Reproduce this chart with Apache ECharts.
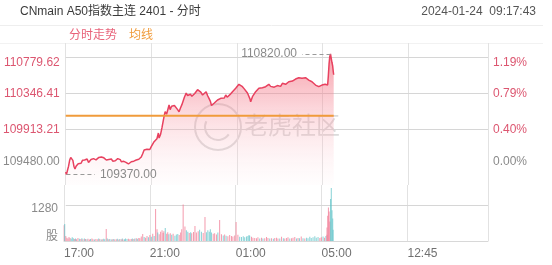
<!DOCTYPE html>
<html><head><meta charset="utf-8">
<script src="https://cdn.jsdelivr.net/npm/echarts@6/dist/echarts.min.js"></script>
<style>html,body{margin:0;padding:0;background:#fff}#c{width:552px;height:265px}</style>
</head><body><div id="c"></div>
<script>
// ---------- data ----------
const titleText = 'CNmain A50指数主连 2401 - 分时';
const dateText = '2024-01-24  09:17:43';
const legendNames = ['分时走势', '均线'];
const basePrice = 109480;
const highPrice = 110820, highTime = '09:08';
const lowPrice = 109370, lowTime = '17:02';
const avgTimes = ['17:00', '09:17'];
const avgValues = [110075, 110075];
const priceTicks = [109480.00, 109913.21, 110346.41, 110779.62];
const volTicks = [0, 1280];
const volUnit = '股';
const xTickLabels = ['17:00', '21:00', '01:00', '05:00', '12:45'];
const sessionEnd = '16:30';

const times = [
'17:00','17:02','17:05','17:08','17:11','17:14','17:17','17:20','17:23','17:26',
'17:29','17:32','17:35','17:39','17:43','17:47','17:50','17:53','17:57','18:00',
'18:04','18:07','18:11','18:14','18:18','18:21','18:25','18:29','18:33','18:37',
'18:40','18:44','18:47','18:51','18:54','18:58','19:01','19:05','19:08','19:12',
'19:15','19:19','19:22','19:26','19:29','19:33','19:36','19:40','19:43','19:45',
'19:49','19:52','19:56','20:00','20:04','20:08','20:11','20:15','20:18','20:22',
'20:25','20:29','20:32','20:36','20:40','20:44','20:48','20:52','20:56','21:00',
'21:04','21:08','21:12','21:16','21:20','21:22','21:26','21:30','21:34','21:37',
'21:39','21:43','21:47','21:50','21:53','21:57','22:01','22:05','22:10','22:14',
'22:18','22:22','22:26','22:29','22:33','22:38','22:42','22:46','22:50','22:54',
'22:57','23:02','23:06','23:10','23:15','23:19','23:24','23:29','23:34','23:38',
'23:42','23:46','23:49','23:52','23:57','00:01','00:06','00:10','00:15','00:20',
'00:25','00:29','00:33','00:38','00:43','00:48','00:52','00:57','01:01','01:06',
'01:11','01:16','01:21','01:25','01:30','01:34','01:37','01:39','01:44','01:48',
'01:53','01:58','02:02','02:07','02:12','02:16','02:21','02:26','02:30','02:35',
'02:40','02:45','02:49','02:54','02:58','03:03','03:08','03:13','03:17','03:22',
'03:26','03:31','03:36','03:40','03:45','03:50','03:54','03:58','04:03','04:08',
'04:13','04:18','04:22','04:27','04:31','04:36','04:41','04:45','04:50','04:55',
'04:59','05:04','05:08','05:12','05:15','09:00','09:02','09:04','09:06','09:08',
'09:10','09:12','09:14','09:16','09:17'
];
const prices = [
109400,109370,109420,109470,109540,109575,109592,109540,109470,109435,
109470,109455,109500,109523,109505,109540,109520,109544,109530,109555,
109515,109523,109550,109535,109560,109568,109545,109562,109575,109555,
109580,109560,109570,109548,109544,109565,109550,109572,109556,109530,
109552,109535,109544,109560,109538,109548,109523,109540,109528,109544,
109515,109505,109496,109512,109523,109540,109530,109550,109544,109565,
109552,109575,109580,109620,109664,109650,109672,109688,109670,109704,
109690,109764,109740,109800,109869,109808,109850,109930,110025,110090,
110125,110095,110109,110206,110150,110190,110170,110200,110185,110150,
110125,110170,110210,110230,110300,110350,110320,110306,110335,110310,
110326,110345,110366,110390,110407,110360,110326,110350,110366,110320,
110286,110250,110200,110185,110230,110250,110266,110245,110286,110300,
110290,110326,110300,110306,110340,110366,110380,110407,110430,110455,
110440,110426,110400,110386,110350,110326,110280,110245,110306,110330,
110366,110390,110407,110400,110414,110405,110426,110440,110455,110430,
110438,110420,110426,110440,110446,110430,110467,110450,110455,110470,
110486,110475,110494,110505,110518,110510,110534,110520,110527,110515,
110534,110520,110506,110495,110486,110470,110446,110435,110426,110440,
110446,110430,110455,110445,110446,110450,110560,110700,110790,110820,
110770,110720,110680,110600,110570
];
const volumes = [
560,610,180,120,90,140,110,80,130,100,
70,90,60,110,80,75,95,60,85,70,
60,80,55,70,90,65,50,75,60,85,
70,55,60,80,65,430,90,60,70,55,
60,75,50,65,80,55,70,60,85,50,
65,90,70,80,60,75,85,70,90,95,
80,110,100,160,250,140,120,180,130,210,
150,260,180,1140,420,300,240,330,380,290,
350,460,260,310,240,280,220,260,190,230,
250,210,300,420,1300,520,380,330,290,310,
280,320,540,300,350,400,330,290,860,310,
380,330,420,300,260,280,230,300,750,240,
200,230,190,170,210,180,160,200,680,220,
150,140,170,130,160,180,210,190,150,120,
110,100,130,90,120,85,100,140,110,90,
95,80,105,120,90,85,150,100,90,110,
130,90,100,120,140,85,110,95,160,100,
90,120,100,150,110,130,170,120,140,110,
130,160,120,180,220,480,900,1200,1050,700,
1500,1890,1100,800,400
];

// ---------- helpers ----------
function toIdx(t) {
  const [h, m] = t.split(':').map(Number);
  if (h >= 17) return (h - 17) * 60 + m;
  if (h < 5 || (h === 5 && m <= 15)) return 420 + h * 60 + m;
  return 735 + (h - 9) * 60 + m;
}
const xTickVals = xTickLabels.map(toIdx);
const xMax = toIdx(sessionEnd);

const RED = '#e8415f', LBL_RED = '#dc5670', GRAY = '#8a8a8a', ORANGE = '#f09b3b';
const UP = 'rgba(240,120,145,0.75)', DOWN = 'rgba(95,195,200,0.75)';
const FONT = "'Liberation Sans', Arial, 'Noto Sans CJK SC', sans-serif";
const GRIDC = '#e2e2e2';
const HGRIDC = '#d6d6d6';

const priceData = times.map((t, i) => [toIdx(t), prices[i]]);
const avgData = avgTimes.map((t, i) => [toIdx(t), avgValues[i]]);
const volData = times.map((t, i) => ({
  value: [toIdx(t), volumes[i]],
  itemStyle: { color: (i === 0 || prices[i] >= prices[i - 1]) ? UP : DOWN }
}));

const pMax = 110952, pMin = 109243;
const fmtPct = v => ((v / basePrice - 1) * 100).toFixed(2) + '%';
const pTop = priceTicks[priceTicks.length - 1], pBot = priceTicks[0];
function priceLabel(v, txt) {
  const key = v > basePrice ? 'r' : 'g';
  const pos = Math.abs(v - pTop) < 0.01 ? 'T' : Math.abs(v - pBot) < 0.01 ? 'B' : '';
  return '{' + key + pos + '|' + txt + '}';
}
const priceRich = {
  r: { color: LBL_RED, fontSize: 12 },
  rT: { color: LBL_RED, fontSize: 12, padding: [11, 0, 0, 0] },
  g: { color: GRAY, fontSize: 12 },
  gB: { color: GRAY, fontSize: 12, padding: [0, 0, 7, 0] }
};
const volRich = {
  u: { color: GRAY, fontSize: 12, padding: [0, 0, 9, 0] },
  v: { color: GRAY, fontSize: 12, padding: [7, 0, 0, 0] }
};

const baseGraphics = [
  { type: 'text', left: 20, top: 6, style: { text: titleText, fill: '#3a3a3a', font: '12px ' + FONT } },
  { type: 'text', right: 16, top: 6, style: { text: dateText, fill: '#555', font: '12px ' + FONT } },
  { type: 'line', shape: { x1: 0, y1: 25.5, x2: 543, y2: 25.5 }, style: { stroke: '#eeeeee', lineWidth: 1 } },
  { type: 'line', shape: { x1: 0, y1: 43.5, x2: 543, y2: 43.5 }, style: { stroke: '#f2f2f2', lineWidth: 1 } },
  { type: 'group', z: 100, children: [
    { type: 'circle', shape: { cx: 218, cy: 127, r: 23 }, style: { fill: 'none', stroke: 'rgba(175,175,175,0.45)', lineWidth: 2 } },
    { type: 'arc', shape: { cx: 218, cy: 127, r: 13, startAngle: 0.6, endAngle: 3.6 }, style: { fill: 'none', stroke: 'rgba(175,175,175,0.45)', lineWidth: 2 } },
    { type: 'text', x: 244, y: 127, style: { text: '老虎社区', fill: 'rgba(170,170,170,0.42)', font: '24px ' + FONT, verticalAlign: 'middle' } }
  ] }
];

const chart = echarts.init(document.getElementById('c'), null, { renderer: 'canvas' });
chart.setOption({
  animation: false,
  textStyle: { fontFamily: FONT },
  legend: {
    left: 59, top: 25, itemWidth: 0, itemHeight: 0, itemGap: 7, icon: 'rect',
    selectedMode: false,
    data: [
      { name: legendNames[0], textStyle: { color: '#e8637a', fontSize: 12 } },
      { name: legendNames[1], textStyle: { color: ORANGE, fontSize: 12 } }
    ]
  },
  grid: [
    { left: 64, right: 64, top: 43, height: 142 },
    { left: 64, right: 64, top: 185, height: 56 }
  ],
  xAxis: [
    { type: 'value', gridIndex: 0, min: 0, max: xMax, interval: 240,
      axisLine: { show: false }, axisTick: { show: false }, axisLabel: { show: false },
      splitLine: { show: true, lineStyle: { color: GRIDC, width: 1 } } },
    { type: 'value', gridIndex: 1, min: 0, max: xMax, interval: 240,
      axisLine: { show: true, onZero: false, lineStyle: { color: '#d8d8d8' } }, axisTick: { show: false },
      axisLabel: { show: true, align: 'left', margin: 7, color: '#707070', fontSize: 12,
        formatter: v => { const i = xTickVals.indexOf(v); return i >= 0 ? xTickLabels[i] : ''; } },
      splitLine: { show: true, lineStyle: { color: GRIDC, width: 1 } } }
  ],
  yAxis: [
    { type: 'value', gridIndex: 0, min: pMin, max: pMax, position: 'left',
      axisLine: { show: false }, axisTick: { show: false },
      axisLabel: { show: true, margin: 6, fontSize: 12, customValues: priceTicks,
        formatter: v => priceLabel(v, v.toFixed(2)), rich: priceRich },
      splitLine: { show: false } },
    { type: 'value', gridIndex: 0, min: pMin, max: pMax, position: 'right',
      axisLine: { show: false }, axisTick: { show: false },
      axisLabel: { show: true, margin: 5, fontSize: 12, customValues: priceTicks,
        formatter: v => priceLabel(v, fmtPct(v)), rich: priceRich },
      splitLine: { show: false } },
    { type: 'value', gridIndex: 1, min: 0, max: 2000, position: 'left',
      axisLine: { show: false }, axisTick: { show: false },
      axisLabel: { show: true, margin: 6, fontSize: 12, customValues: volTicks, rich: volRich,
        formatter: v => (v === 0 ? '{u|' + volUnit + '}' : '{v|' + v + '}') },
      splitLine: { show: false } }
  ],
  series: [
    { name: legendNames[0], type: 'line', xAxisIndex: 0, yAxisIndex: 0, z: 3, data: priceData,
      showSymbol: false, symbol: 'none', lineStyle: { color: RED, width: 1.5 }, itemStyle: { color: RED },
      areaStyle: { origin: 'start', color: new echarts.graphic.LinearGradient(0, 0, 0, 1, [
        { offset: 0, color: 'rgba(240,80,100,0.8)' },
        { offset: 1, color: 'rgba(255,235,238,0.15)' }]) },
      markLine: { silent: true, symbol: 'none', animation: false,
        lineStyle: { color: '#9a9a9a', type: [4, 3], width: 1.2 },
        label: { show: true, position: 'end', distance: 5, color: GRAY, fontSize: 12 },
        data: [
          [ { coord: [toIdx(highTime), highPrice], label: { formatter: highPrice.toFixed(2) } },
            { coord: [toIdx(highTime) - 80, highPrice] } ],
          [ { coord: [toIdx(lowTime), lowPrice], label: { formatter: lowPrice.toFixed(2) } },
            { coord: [toIdx(lowTime) + 80, lowPrice] } ]
        ] } },
    { name: legendNames[1], type: 'line', xAxisIndex: 0, yAxisIndex: 0, z: 4, data: avgData,
      showSymbol: false, symbol: 'none', lineStyle: { color: ORANGE, width: 2 }, itemStyle: { color: ORANGE } },
    { name: 'vol', type: 'bar', xAxisIndex: 1, yAxisIndex: 2, z: 3, data: volData, barWidth: 1 }
  ],
  graphic: { elements: baseGraphics }
});

// horizontal grid lines positioned through the chart's own y scales
const x0 = chart.convertToPixel({ xAxisIndex: 0 }, 0);
const x1 = chart.convertToPixel({ xAxisIndex: 0 }, xMax);
const hLines = [];
priceTicks.slice(1).forEach(v => {
  const y = Math.round(chart.convertToPixel({ yAxisIndex: 0 }, v)) + 0.5;
  hLines.push({ type: 'line', z: 1, silent: true, shape: { x1: x0, y1: y, x2: x1, y2: y }, style: { stroke: HGRIDC, lineWidth: 1 } });
});
volTicks.slice(1).forEach(v => {
  const y = Math.round(chart.convertToPixel({ yAxisIndex: 2 }, v)) + 0.5;
  hLines.push({ type: 'line', z: 1, silent: true, shape: { x1: x0, y1: y, x2: x1, y2: y }, style: { stroke: HGRIDC, lineWidth: 1 } });
});
chart.setOption({ graphic: { elements: baseGraphics.concat(hLines) } });
</script>
</body></html>
